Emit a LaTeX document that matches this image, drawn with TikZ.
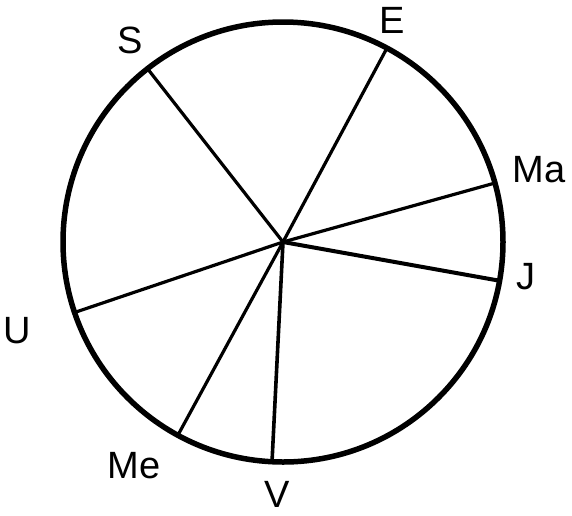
\documentclass[tikz,border=0pt]{standalone}
\usepackage{fontspec}
\setmainfont{Liberation Sans}
\begin{document}
\begin{tikzpicture}[x=1pt,y=-1pt,
  rim/.style={line width=5.5pt},
  spoke/.style={line width=3.2pt},
  lbl/.style={font=\fontsize{38}{42}\selectfont, inner sep=0pt}]
\useasboundingbox (0,0) rectangle (572,515);
\coordinate (c) at (283,242);
\draw[rim] (c) circle[radius=220];
\coordinate (s) at (147,68);
\coordinate (e) at (387,48);
\coordinate (ma) at (495,183);
\coordinate (j) at (501,281);
\coordinate (u) at (73,313);
\coordinate (me) at (178,435);
\coordinate (v) at (272,462);
\draw[spoke] (c) -- (s);
\draw[spoke] (c) -- (e);
\draw[spoke] (c) -- (ma);
\draw[line width=4pt] (c) -- (j);
\draw[spoke] (c) -- (u);
\draw[spoke] (c) -- (me);
\draw[line width=3.6pt] (c) -- (v);
\node[lbl] (ls) at (130,40) {S};
\node[lbl] (le) at (392,20) {E};
\node[lbl] (lma) at (539,170) {Ma};
\node[lbl] (lj) at (526,277) {J};
\node[lbl] (lu) at (17,331) {U};
\node[lbl] (lme) at (134,466) {Me};
\node[lbl] (lv) at (277,494) {V};
\end{tikzpicture}
\end{document}
